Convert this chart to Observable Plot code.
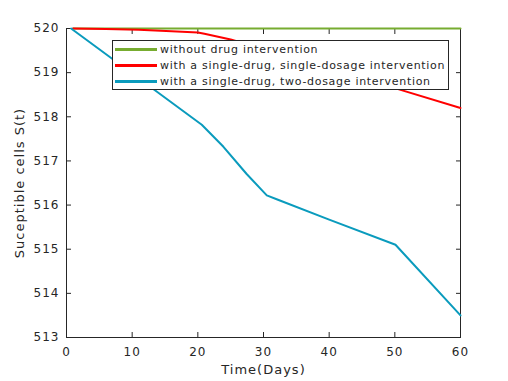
<!DOCTYPE html>
<html><head><meta charset="utf-8">
<script src="https://cdn.jsdelivr.net/npm/d3@7"></script>
<script src="https://cdn.jsdelivr.net/npm/@observablehq/plot@0.6"></script>
<style>
body{margin:0;background:#fff;}
#wrap{position:relative;width:508px;height:381px;}
#legend{position:absolute;left:112px;top:40px;width:335px;height:48px;border:1px solid #262626;background:#fff;font:11px "DejaVu Sans";letter-spacing:0.7px;color:#262626}
.row{position:absolute;left:0;height:16px;display:flex;align-items:center;white-space:nowrap}
.sw{width:42px;height:3px;margin-left:2px;margin-right:3px}
</style></head>
<body><div id="wrap"></div>
<script>
const xTicks = [0, 10, 20, 30, 40, 50, 60];
const yTicks = [513, 514, 515, 516, 517, 518, 519, 520];
const seriesNames = ["without drug intervention", "with a single-drug, single-dosage intervention", "with a single-drug, two-dosage intervention"];
const seriesColors = ["#77ac30", "#ff0000", "#0a9bbd"];
const greenDays = [1, 60];
const greenVals = [520, 520];
const redDays = [1, 6, 11, 16, 20, 21, 25, 40, 50, 60];
const redVals = [520, 519.99, 519.97, 519.94, 519.91, 519.88, 519.75, 519.1, 518.65, 518.2];
const blueDays = [0.7, 20.6, 23.9, 27.4, 30.5, 32.2, 40, 50.1, 60];
const blueVals = [520, 517.82, 517.32, 516.71, 516.22, 516.12, 515.67, 515.1, 513.5];
const xLabel = "Time(Days)";
const yLabel = "Suceptible cells S(t)";

const mk = (days, vals) => days.map((d, i) => ({t: d, v: vals[i]}));
const series = [mk(greenDays, greenVals), mk(redDays, redVals), mk(blueDays, blueVals)];
const ink = "#262626";
const empty = () => "";

const chart = Plot.plot({
  width: 508, height: 381,
  marginLeft: 66, marginRight: 48, marginTop: 28, marginBottom: 44,
  style: {fontFamily: "DejaVu Sans", fontSize: "12px", letterSpacing: "1px", color: ink, background: "#fff"},
  x: {domain: [0, 60]},
  y: {domain: [513, 520]},
  marks: [
    Plot.frame({stroke: ink}),
    Plot.axisX({ticks: xTicks, tickSize: 0, tickPadding: 10, label: null, fontSize: 12, tickFormat: "d"}),
    Plot.axisX({ticks: xTicks, tickSize: -5, tickFormat: empty, label: null, stroke: ink}),
    Plot.axisX({anchor: "top", ticks: xTicks, tickSize: -5, tickFormat: empty, label: null, stroke: ink}),
    Plot.axisY({ticks: yTicks, tickSize: 0, tickPadding: 7, label: null, fontSize: 12, tickFormat: "d"}),
    Plot.axisY({ticks: yTicks, tickSize: -5, tickFormat: empty, label: null, stroke: ink}),
    Plot.axisY({anchor: "right", ticks: yTicks, tickSize: -5, tickFormat: empty, label: null, stroke: ink}),
    ...series.map((s, i) => Plot.line(s, {x: "t", y: "v", stroke: seriesColors[i], strokeWidth: 2})),
    Plot.text([xLabel], {frameAnchor: "bottom", dy: 36, fontSize: 13, fill: ink, style: "letter-spacing:1.1px"}),
    Plot.text([yLabel], {frameAnchor: "left", textAnchor: "middle", dx: -47, rotate: -90, fontSize: 13, fill: ink, style: "letter-spacing:1.3px"})
  ]
});
const wrap = document.getElementById("wrap");
wrap.appendChild(chart);
const leg = document.createElement("div");
leg.id = "legend";
seriesNames.forEach((n, i) => {
  const r = document.createElement("div");
  r.className = "row";
  r.style.top = (i * 16) + "px";
  const sw = document.createElement("div");
  sw.className = "sw";
  sw.style.background = seriesColors[i];
  const tx = document.createElement("span");
  tx.textContent = n;
  r.appendChild(sw); r.appendChild(tx);
  leg.appendChild(r);
});
wrap.appendChild(leg);
</script>
</body></html>
